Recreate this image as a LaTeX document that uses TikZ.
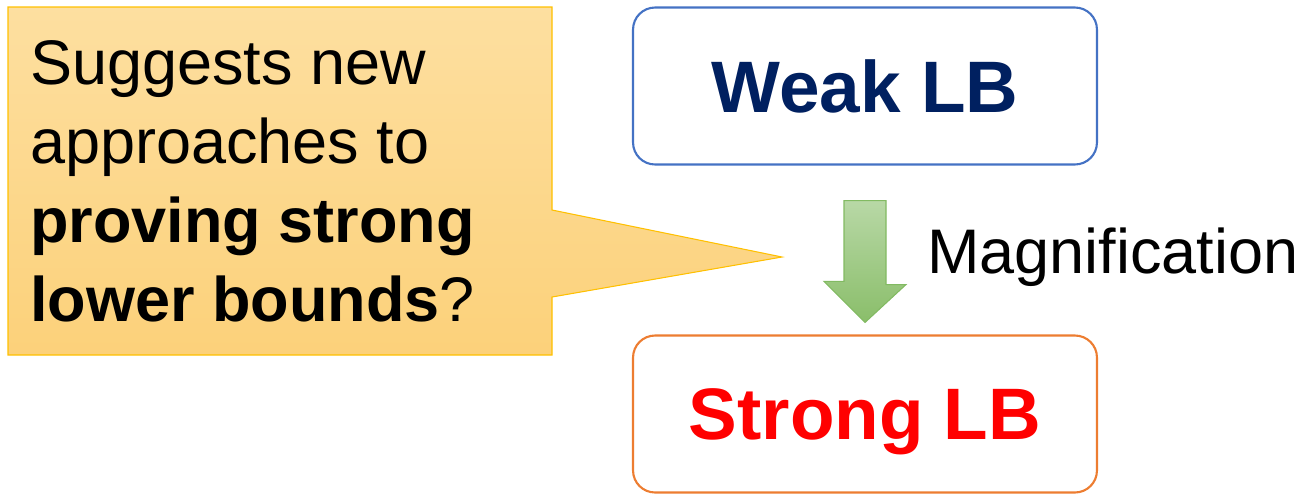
\documentclass[tikz,border=0pt]{standalone}
\usepackage{fontspec}
\setmainfont{Liberation Sans}
\usetikzlibrary{positioning,calc}
\definecolor{notetop}{RGB}{253,223,160}
\definecolor{notebot}{RGB}{252,209,122}
\definecolor{noteline}{RGB}{255,192,0}
\definecolor{weakline}{RGB}{68,114,196}
\definecolor{weaktext}{RGB}{0,32,96}
\definecolor{strongline}{RGB}{237,125,49}
\definecolor{strongtext}{RGB}{255,0,0}
\definecolor{arrowtop}{RGB}{184,216,166}
\definecolor{arrowbot}{RGB}{138,190,106}
\definecolor{arrowline}{RGB}{130,186,98}

\begin{document}
\begin{tikzpicture}[x=0.02cm,y=0.02cm,
    lbbox/.style={rectangle,rounded corners=0.44cm,draw,line width=1.2pt,fill=white,minimum width=9.28cm,minimum height=3.14cm,text depth=0pt,font=\fontsize{41.5}{50}\selectfont\bfseries},
    notetext/.style={align=left,inner sep=0pt,font=\fontsize{35.85}{44.95}\selectfont},
    callout/.style={top color=notetop,bottom color=notebot,draw=noteline,line width=0.6pt},
    bigarrow/.style={top color=arrowtop,bottom color=arrowbot,draw=arrowline,line width=0.6pt}]
    \useasboundingbox (0,0) rectangle (1305,-495);
    % lower bound boxes
    \node[lbbox,draw=weakline,text=weaktext] (weak) at (865,-86) {Weak LB};
    \node[lbbox,draw=strongline,text=strongtext] (strong) at (865,-414) {Strong LB};
    % magnification arrow
    \shade[bigarrow] ($(weak.south)+(-21,-35)$) -- ++(42,0) -- ++(0,-84) -- ++(20,0)
        -- ($(strong.north)+(0,12)$) -- ++(-41,41) -- ++(20,0) -- cycle;
    \node[anchor=base west,inner sep=0pt,font=\fontsize{35.85}{44.95}\selectfont] (mag) at (927,-273) {Magnification};
    % callout
    \coordinate (tip) at (782,-257);
    \shade[callout] (8,-7) -- (552,-7) -- (552,-210) -- (tip) -- (552,-297) -- (552,-355) -- (8,-355) -- cycle;
    \node[notetext,anchor=west] (idea) at (30,-181) {Suggests new\\approaches to\\\textbf{proving strong}\\\textbf{lower bounds}?};
\end{tikzpicture}
\end{document}
